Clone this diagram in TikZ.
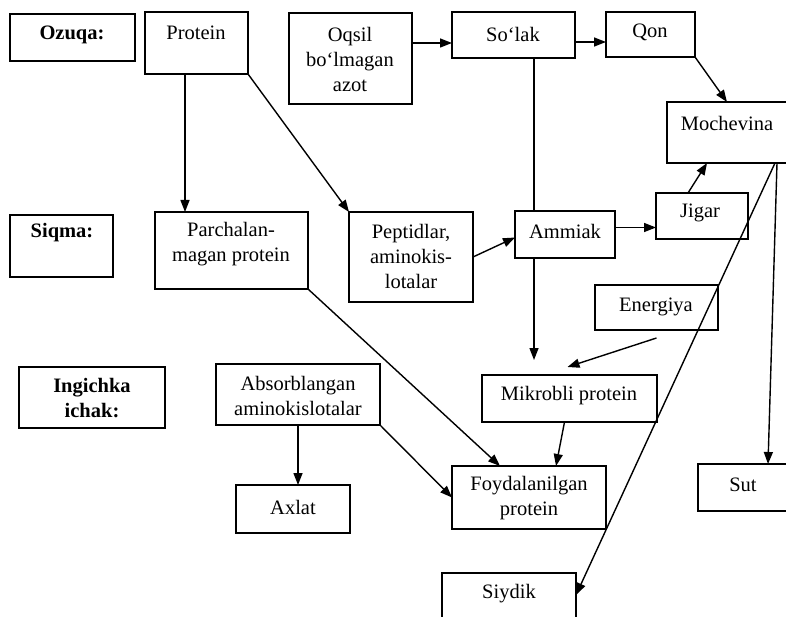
\documentclass[tikz,border=0pt]{standalone}
\usepackage{fontspec}
\setmainfont{Liberation Serif}
\usetikzlibrary{arrows.meta,calc}
\newcommand{\mkbox}[5]{\node[box, minimum width=#4pt-#2pt, minimum height=#5pt-#3pt] (#1) at ({(#2+#4)/2},{(#3+#5)/2}) {};}
\begin{document}
\begin{tikzpicture}[x=1pt,y=-1pt,
  box/.style={draw, line width=1.6pt, inner sep=0pt, outer sep=0pt},
  txt/.style={font=\fontsize{20.5}{25}\selectfont, align=center, inner sep=0pt},
  btxt/.style={font=\fontsize{20.5}{25}\selectfont\bfseries, align=center, inner sep=0pt},
  arr/.style={line width=1.4pt, -{Triangle[length=12pt,width=9pt]}},
  ln/.style={line width=1.4pt}]
\useasboundingbox[fill=white] (0,0) rectangle (786,617);
\clip (0,0) rectangle (786,617);
% boxes
\mkbox{ozuqa}{10}{14}{135}{61}
\mkbox{protein}{145}{12}{248}{74}
\mkbox{oqsil}{289}{13}{412}{104}
\mkbox{solak}{452}{12}{575}{58}
\mkbox{qon}{606}{12}{695}{57}
\mkbox{mochevina}{667}{102}{800}{163}
\mkbox{jigar}{656}{193}{748}{239}
\mkbox{siqma}{10}{215}{113}{277}
\mkbox{parchalan}{155}{212}{308}{289}
\mkbox{peptid}{349}{212}{473}{302}
\mkbox{ammiak}{515}{211}{615}{258}
\mkbox{energiya}{595}{285}{718}{330}
\mkbox{ingichka}{19}{367}{165}{428}
\mkbox{absorb}{216}{364}{380}{425}
\mkbox{mikrobli}{482}{375}{657}{422}
\mkbox{axlat}{236}{485}{350}{533}
\mkbox{foyd}{452}{466}{606}{529}
\mkbox{sut}{698}{464}{800}{511}
\mkbox{siydik}{442}{573}{576}{640}
% texts
\node[btxt] (ozuqa-t) at (72,35) {Ozuqa:};
\node[txt] (protein-t) at (196,33) {Protein};
\node[txt] (oqsil-t) at (350,59) {Oqsil\\bo‘lmagan\\azot};
\node[txt] (solak-t) at (513,34) {So‘lak};
\node[txt] (qon-t) at (650,32) {Qon};
\node[txt] (mochevina-t) at (727,123) {Mochevina};
\node[txt] (jigar-t) at (700,213) {Jigar};
\node[btxt] (siqma-t) at (62,233) {Siqma:};
\node[txt] (parchalan-t) at (231,244) {Parchalan-\\magan protein};
\node[txt] (peptid-t) at (411,256) {Peptidlar,\\aminokis-\\lotalar};
\node[txt] (ammiak-t) at (565,231) {Ammiak};
\node[txt] (energiya-t) at (656,307) {Energiya};
\node[btxt] (ingichka-t) at (92,398) {Ingichka\\ichak:};
\node[txt] (absorb-t) at (298,396) {Absorblangan\\aminokislotalar};
\node[txt] (mikrobli-t) at (569,396) {Mikrobli protein};
\node[txt] (axlat-t) at (293,507) {Axlat};
\node[txt] (foyd-t) at (529,498) {Foydalanilgan\\protein};
\node[txt] (sut-t) at (743,485) {Sut};
\node[txt] (siydik-t) at (509,594) {Siydik};
% connectors
\draw[arr] ([xshift=40pt]protein.south west) -- ([xshift=30pt]parchalan.north west);
\draw[arr] (protein.south east) -- (peptid.north west);
\draw[arr] ([yshift=-30pt]oqsil.north east) coordinate (o1) -- (o1 -| solak.west);
\draw[arr] ([yshift=-7pt]solak.east) coordinate (s1) -- (s1 -| qon.west);
\draw[arr] (qon.south east) -- ([xshift=60pt]mochevina.north west);
\draw[ln] ([xshift=82pt]solak.south west) -- ([xshift=19pt]ammiak.north west);
\draw[arr, shorten >=15pt] ([xshift=19pt]ammiak.south west) coordinate (a1) -- (a1 |- mikrobli.north);
\draw[arr] (peptid.east) -- ([yshift=-3pt]ammiak.west);
\draw[arr] ([yshift=7pt]ammiak.east) coordinate (a2) -- (a2 -| jigar.west);
\draw[arr] ([xshift=32pt]jigar.north west) -- ([xshift=40pt]mochevina.south west);
\draw[arr] ([xshift=110pt]mochevina.south west) -- ([xshift=70pt]sut.north west);
\draw[arr] ([xshift=108pt]mochevina.south west) -- ([yshift=-22pt]siydik.north east);
\draw[arr] ([yshift=-8pt]energiya.south) -- ([xshift=-2pt,yshift=8pt]mikrobli.north);
\draw[arr] ([xshift=-5pt]mikrobli.south) -- ([xshift=27pt]foyd.north);
\draw[arr] (parchalan.south east) -- ([xshift=48pt]foyd.north west);
\draw[arr] (absorb.south east) -- (foyd.west);
\draw[arr] (absorb.south) -- (absorb.south |- axlat.north);
\end{tikzpicture}
\end{document}
